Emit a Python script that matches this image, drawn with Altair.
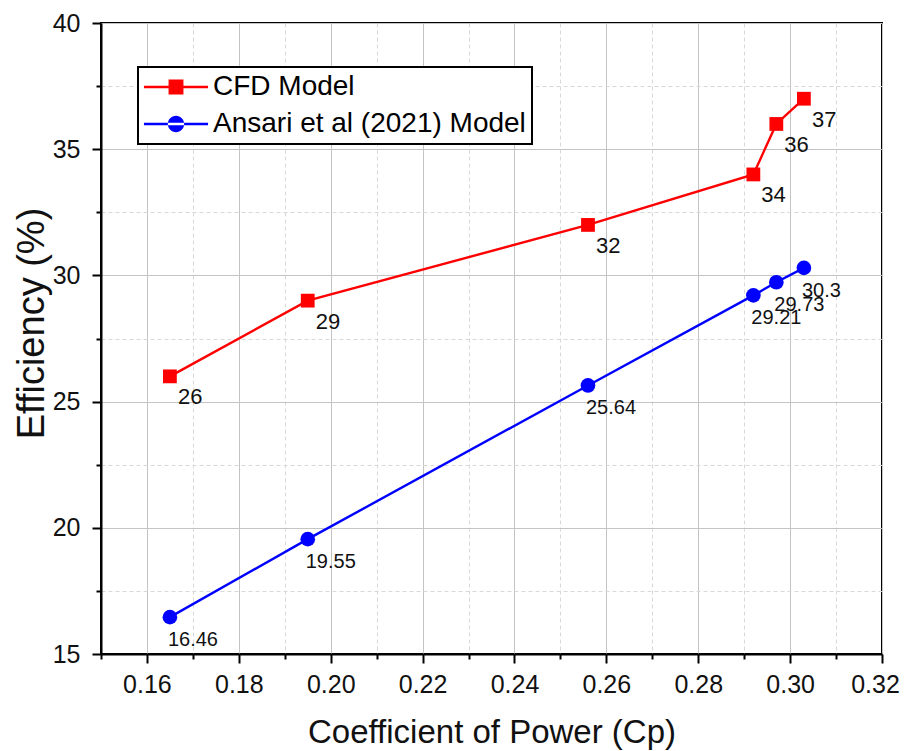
import altair as alt
import pandas as pd

# ---- data ----
cp = [0.165, 0.195, 0.256, 0.292, 0.297, 0.303]
cfd_eff = [26, 29, 32, 34, 36, 37]
ansari_eff = [16.46, 19.55, 25.64, 29.21, 29.73, 30.3]
cfd_labels = ["26", "29", "32", "34", "36", "37"]
ansari_labels = ["16.46", "19.55", "25.64", "29.21", "29.73", "30.3"]

series_names = ["CFD Model", "Ansari et al (2021) Model"]
series_colors = ["#ff0000", "#0000ff"]

x_ticks = [round(0.15 + 0.01 * i, 2) for i in range(18)]
y_ticks = [15 + 2.5 * i for i in range(11)]

cfd_df = pd.DataFrame({"cp": cp, "eff": cfd_eff, "lab": cfd_labels, "series": series_names[0]})
ans_df = pd.DataFrame({"cp": cp, "eff": ansari_eff, "lab": ansari_labels, "series": series_names[1]})
all_df = pd.concat([cfd_df, ans_df], ignore_index=True)

FONT = "Liberation Sans"

x_major = "abs(datum.value*50 - round(datum.value*50)) < 0.001"
y_major = "datum.value % 5 == 0"

x_scale = alt.Scale(domain=[0.15, 0.32], nice=False, zero=False)
y_scale = alt.Scale(domain=[15, 40], nice=False, zero=False)

x_enc = alt.X(
    "cp:Q",
    scale=x_scale,
    axis=alt.Axis(
        title="Coefficient of Power (Cp)",
        values=x_ticks,
        labelExpr=f"{x_major} ? format(datum.value, '.2f') : ''",
        labelOverlap=False,
        labelFlush=False,
        labelOffset={"condition": {"test": "datum.value > 0.315", "value": -7}, "value": 0},
        tickSize={"condition": {"test": x_major, "value": 9}, "value": 5},
        gridDash={"condition": {"test": x_major, "value": []}, "value": [4, 3]},
        gridColor={"condition": {"test": x_major, "value": "#c4c4c4"}, "value": "#d8d8d8"},
        labelPadding=9,
        titleFontSize=33,
        titleY=62,
        titleBaseline="top",
    ),
)
y_enc = alt.Y(
    "eff:Q",
    scale=y_scale,
    axis=alt.Axis(
        title="Efficiency (%)",
        values=y_ticks,
        labelExpr=f"{y_major} ? format(datum.value, 'd') : ''",
        labelOverlap=False,
        labelFlush=False,
        tickSize={"condition": {"test": y_major, "value": 9}, "value": 5},
        gridDash={"condition": {"test": y_major, "value": []}, "value": [4, 3]},
        gridColor={"condition": {"test": y_major, "value": "#c4c4c4"}, "value": "#d8d8d8"},
        labelPadding=12,
        titleFontSize=38,
        titleX=-50,
        titleY=300,
        titleBaseline="bottom",
    ),
)

cfd_line = alt.Chart(cfd_df).mark_line(color=series_colors[0], strokeWidth=2.4).encode(x=x_enc, y=y_enc)
ans_line = alt.Chart(ans_df).mark_line(color=series_colors[1], strokeWidth=2.4).encode(x=x_enc, y=y_enc)
cfd_pts = alt.Chart(cfd_df).mark_point(shape="square", filled=True, opacity=1, size=190,
                                        color=series_colors[0]).encode(x=x_enc, y=y_enc)
ans_pts = alt.Chart(ans_df).mark_point(shape="circle", filled=True, opacity=1, size=215,
                                       color=series_colors[1]).encode(x=x_enc, y=y_enc)

cfd_txt = alt.Chart(cfd_df).mark_text(align="left", baseline="middle", dx=8, dy=21,
                                      fontSize=22, font=FONT, color="#111111").encode(
    x=x_enc, y=y_enc, text="lab:N")
ans_txt = alt.Chart(ans_df).mark_text(align="left", baseline="middle", dx=-2, dy=23,
                                      fontSize=20, font=FONT, color="#111111").encode(
    x=x_enc, y=y_enc, text="lab:N")

# legend-only layer (no marks drawn) whose symbols combine line + marker
sq_path = "M-2.67,-0.1H2.67V0.1H-2.67Z M-0.62,-0.62H0.62V0.62H-0.62Z"
ci_path = ("M-2.67,-0.1H2.67V0.1H-2.67Z "
           "M-0.68,0A0.68,0.68 0 1,0 0.68,0A0.68,0.68 0 1,0 -0.68,0Z")

legend_layer = alt.Chart(all_df).transform_filter("false").mark_point(
    filled=True, opacity=1, size=576
).encode(
    x=x_enc,
    y=y_enc,
    color=alt.Color(
        "series:N",
        scale=alt.Scale(domain=series_names, range=series_colors),
        legend=alt.Legend(
            title=None,
            orient="none",
            legendX=37,
            legendY=44,
            direction="vertical",
            labelFont=FONT,
            labelFontSize=28,
            labelColor="#000000",
            labelLimit=0,
            labelOffset=23,
            symbolOffset=18,
            symbolSize=576,
            symbolOpacity=1,
            symbolStrokeWidth=0,
            rowPadding=9,
            padding=6,
            strokeColor="#000000",
            fillColor="#ffffff",
        ),
    ),
    shape=alt.Shape(
        "series:N",
        scale=alt.Scale(domain=series_names, range=[sq_path, ci_path]),
    ),
)

chart = alt.layer(
    cfd_line, ans_line, cfd_pts, ans_pts, cfd_txt, ans_txt, legend_layer
).properties(
    width=781,
    height=631,
    autosize=alt.AutoSizeParams(type="none"),
    padding={"left": 93, "top": 15, "right": 18, "bottom": 97},
    background="#ffffff",
).configure_view(
    stroke="#000000", strokeWidth=2
).configure_axis(
    domainColor="#000000",
    domainWidth=2,
    tickColor="#000000",
    tickWidth=2,
    gridWidth=1,
    labelFont=FONT,
    labelFontSize=25,
    labelColor="#111111",
    titleFont=FONT,
    titleFontWeight="normal",
    titleColor="#111111",
).configure_legend(
    strokeWidth=2,
)

chart.save("out.html", embed_options={"renderer": "svg", "actions": False})
